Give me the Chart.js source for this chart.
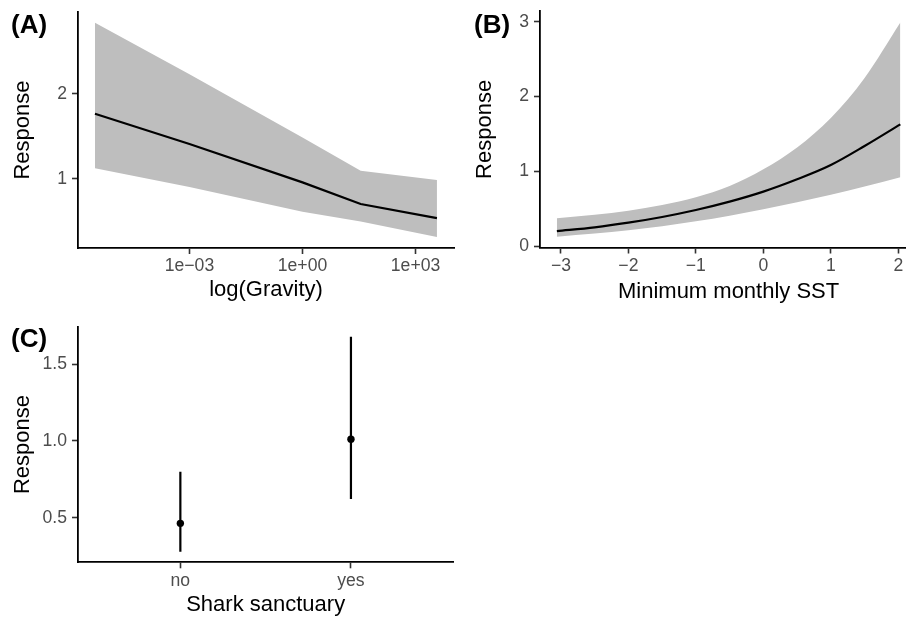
<!DOCTYPE html>
<html>
<head>
<meta charset="utf-8">
<script src="https://cdn.jsdelivr.net/npm/chart.js@4.4.1/dist/chart.umd.min.js"></script>
<style>
  html, body { margin: 0; padding: 0; background: #fff; overflow: hidden; width: 906px; height: 618px; position: relative; }
  canvas { position: absolute; }
  .tag { position: absolute; font: bold 26px "Liberation Sans", Arial, sans-serif; color: #000; line-height: 1; }
</style>
</head>
<body>
<canvas id="cA" width="460" height="310" style="left:0;top:0;width:460px;height:310px"></canvas>
<canvas id="cB" width="460" height="310" style="left:460px;top:0;width:460px;height:310px"></canvas>
<canvas id="cC" width="460" height="318" style="left:0;top:300px;width:460px;height:318px"></canvas>
<div class="tag" style="left:11px;top:11px">(A)</div>
<div class="tag" style="left:474px;top:11px">(B)</div>
<div class="tag" style="left:11px;top:325px">(C)</div>
<script>
// ---- (A) log(Gravity) ----
const gravityX     = [3.1e-6, 1e-3, 1, 35, 3700];
const gravityFit   = [1.765, 1.41, 0.96, 0.706, 0.54];
const gravityUpper = [2.835, 2.23, 1.486, 1.098, 0.988];
const gravityLower = [1.125, 0.906, 0.615, 0.50, 0.32];
const gravityTicks = [1e-3, 1, 1e3];
const gravityTickLabels = ['1e\u221203', '1e+00', '1e+03'];
const gravityYTicks = [1, 2];

// ---- (B) Minimum monthly SST ----
const sstX     = [-3.06, -2.5, -2, -1.5, -1, -0.5, 0, 0.5, 1, 1.5, 2.03];
const sstFit   = [0.20, 0.25, 0.312, 0.388, 0.481, 0.593, 0.727, 0.892, 1.083, 1.337, 1.627];
const sstUpper = [0.37, 0.418, 0.472, 0.548, 0.651, 0.802, 1.026, 1.318, 1.712, 2.248, 2.99];
const sstLower = [0.125, 0.166, 0.211, 0.265, 0.330, 0.405, 0.490, 0.584, 0.685, 0.796, 0.92];
const sstTicks = [-3, -2, -1, 0, 1, 2];
const sstTickLabels = ['\u22123', '\u22122', '\u22121', '0', '1', '2'];
const sstYTicks = [0, 1, 2, 3];

// ---- (C) Shark sanctuary ----
const sanctuary  = ['no', 'yes'];
const sanctFit   = [0.463, 1.012];
const sanctLower = [0.278, 0.622];
const sanctUpper = [0.80, 1.679];
const sanctYTicks = [0.5, 1.0, 1.5];
const sanctYLabels = ['0.5', '1.0', '1.5'];

const FONT = '"Liberation Sans", Arial, sans-serif';
const BAND = '#bebebe';

function pts(xs, ys) { return xs.map((x, i) => ({ x: x, y: ys[i] })); }

function axis(o) {
  return {
    type: o.type || 'linear',
    min: o.min, max: o.max,
    border: { display: true, color: '#000', width: 1.8 },
    grid: { display: true, drawOnChartArea: false, drawTicks: true, tickLength: 6, tickColor: '#333', tickWidth: 1.6 },
    ticks: {
      font: { family: FONT, size: 17.6 }, color: '#4d4d4d',
      autoSkip: false, maxRotation: 0, minRotation: 0, padding: o.pad,
      callback: (v, i) => o.labels ? o.labels[i] : String(v)
    },
    title: { display: true, text: o.title, color: '#000', font: { family: FONT, size: 22 }, padding: o.tpad },
    afterBuildTicks: s => { s.ticks = o.ticks.map(v => ({ value: v })); },
    afterFit: o.fit
  };
}

function panel(id, area, xo, yo, datasets) {
  const cv = document.getElementById(id);
  const W = cv.width, H = cv.height;
  xo.fit = s => { s.height = H - area.bottom; s.paddingLeft = 0; s.paddingRight = 0; };
  yo.fit = s => { s.width = area.left; s.paddingTop = 0; s.paddingBottom = 0; };
  return new Chart(cv.getContext('2d'), {
    type: 'scatter',
    data: { datasets: datasets },
    options: {
      responsive: false,
      animation: false,
      layout: { padding: { left: 0, top: area.top, right: W - area.right, bottom: 0 } },
      plugins: { legend: { display: false }, tooltip: { enabled: false } },
      scales: { x: axis(xo), y: axis(yo) }
    }
  });
}

function ribbon(xs, fit, up, lo, smooth) {
  const mode = smooth ? 'monotone' : 'default';
  return [
    { data: pts(xs, fit), showLine: true, borderColor: '#000', borderWidth: 2.2, pointRadius: 0, cubicInterpolationMode: mode, tension: 0 },
    { data: pts(xs, up), showLine: true, borderWidth: 0, borderColor: BAND, backgroundColor: BAND, fill: '+1', pointRadius: 0, cubicInterpolationMode: mode, tension: 0 },
    { data: pts(xs, lo), showLine: true, borderWidth: 0, borderColor: BAND, pointRadius: 0, cubicInterpolationMode: mode, tension: 0 }
  ];
}

// (A)
panel('cA', { left: 78, top: 12, right: 454, bottom: 248 },
  { type: 'logarithmic', min: 1.1e-6, max: 10500, ticks: gravityTicks, labels: gravityTickLabels, pad: 2,
    title: 'log(Gravity)', tpad: { top: 0, bottom: 7 } },
  { min: 0.19, max: 2.96, ticks: gravityYTicks, pad: 5, title: 'Response', tpad: { top: 10, bottom: 0 } },
  ribbon(gravityX, gravityFit, gravityUpper, gravityLower, false));

// (B)
panel('cB', { left: 80, top: 11.2, right: 457.2, bottom: 247.5 },
  { min: -3.31, max: 2.28, ticks: sstTicks, labels: sstTickLabels, pad: 2,
    title: 'Minimum monthly SST', tpad: { top: 0, bottom: 5 } },
  { min: -0.02, max: 3.14, ticks: sstYTicks, pad: 5, title: 'Response', tpad: { top: 12, bottom: 0 } },
  ribbon(sstX, sstFit, sstUpper, sstLower, true));

// (C)
const sanctPos = sanctuary.map((_, i) => i + 1);
const cSets = [{ data: pts(sanctPos, sanctFit), pointRadius: 3.7, pointBackgroundColor: '#000', pointBorderWidth: 0, showLine: false }];
sanctPos.forEach((x, i) => {
  cSets.push({ data: [{ x: x, y: sanctLower[i] }, { x: x, y: sanctUpper[i] }], showLine: true,
    borderColor: '#000', borderWidth: 2.2, pointRadius: 0 });
});
panel('cC', { left: 78, top: 26.7, right: 453.3, bottom: 262.3 },
  { min: 0.4, max: 2.6, ticks: sanctPos, labels: sanctuary, pad: 2,
    title: 'Shark sanctuary', tpad: { top: 0, bottom: 0 } },
  { min: 0.209, max: 1.745, ticks: sanctYTicks, labels: sanctYLabels, pad: 5, title: 'Response', tpad: { top: 10, bottom: 0 } },
  cSets);
</script>
</body>
</html>
